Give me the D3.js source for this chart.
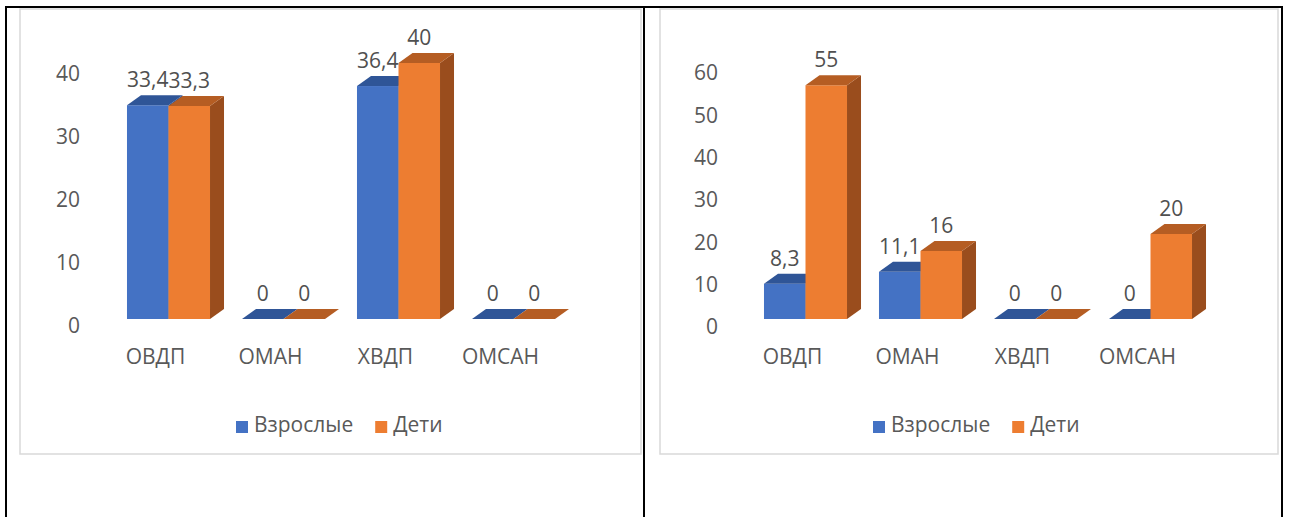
<!DOCTYPE html>
<html>
<head>
<meta charset="utf-8">
<script src="https://cdn.jsdelivr.net/npm/d3@7"></script>
<style>
  html, body { margin: 0; padding: 0; background: #fff; }
  svg { display: block; }
  text { font-family: "Open Sans", "Noto Sans", sans-serif; }
</style>
</head>
<body>
<svg id="page" width="1289" height="517"></svg>
<script>
// Categories and series shared by both panels
const categories = ["ОВДП", "ОМАН", "ХВДП", "ОМСАН"];
const seriesNames = ["Взрослые", "Дети"];

// Left panel values (%)
const leftAdults = [33.4, 0, 36.4, 0];
const leftChildren = [33.3, 0, 40, 0];
const leftTicks = [0, 10, 20, 30, 40];

// Right panel values (%)
const rightAdults = [8.3, 11.1, 0, 0];
const rightChildren = [55, 16, 0, 20];
const rightTicks = [0, 10, 20, 30, 40, 50, 60];

// Face colours per series: front, top, side
const palette = [
  { front: "#4472C4", top: "#2F5597", side: "#2E5190" },
  { front: "#ED7D31", top: "#B55D23", side: "#9A4D1D" }
];

const FONT_SIZE = "21px";
const svg = d3.select("#page");
const fmt = v => String(v).replace(".", ",");

// Table frame around the two panels
const frame = svg.append("g").attr("stroke", "#000").attr("stroke-width", 2);
frame.append("line").attr("x1", 5).attr("x2", 1283).attr("y1", 7).attr("y2", 7);
[6, 644, 1282].forEach(x =>
  frame.append("line").attr("x1", x).attr("x2", x).attr("y1", 7).attr("y2", 517));

function drawPanel(cfg) {
  const g = svg.append("g");

  // chart area border
  g.append("rect")
    .attr("x", cfg.box[0]).attr("y", cfg.box[1])
    .attr("width", cfg.box[2]).attr("height", cfg.box[3])
    .attr("fill", "#fff").attr("stroke", "#D9D9D9").attr("stroke-width", 1.5);

  const dx = 14, dy = 10;

  const x = d3.scaleBand()
    .domain(categories)
    .range(cfg.xRange)
    .paddingInner(0.278)
    .paddingOuter(0.139);
  const xs = d3.scaleBand().domain([0, 1]).range([0, x.bandwidth()]);

  const y = d3.scaleLinear().domain(cfg.yDomain).range(cfg.yRange);
  const yAxisScale = d3.scaleLinear().domain(cfg.yDomain).range(cfg.axisRange);

  // value axis labels (no line, no ticks)
  const ax = g.append("g")
    .attr("transform", `translate(${cfg.axisX},0)`)
    .call(d3.axisLeft(yAxisScale).tickValues(cfg.ticks).tickSize(0).tickPadding(0).tickFormat(d3.format("d")));
  ax.select(".domain").remove();
  ax.selectAll("text")
    .attr("fill", "#595959")
    .style("font-size", FONT_SIZE)
    .style("font-family", "'Open Sans', 'Noto Sans', sans-serif");

  // 3D bars
  const series = [cfg.adults, cfg.children];
  const bars = g.append("g");
  categories.forEach((c, i) => {
    series.forEach((vals, s) => {
      const v = vals[i];
      const x0 = x(c) + xs(s);
      const w = xs.bandwidth();
      const y0 = y(0);
      const y1 = y(v);
      const col = palette[s];
      const bg = bars.append("g");
      if (v > 0) {
        bg.append("rect")
          .attr("x", x0).attr("y", y1)
          .attr("width", w).attr("height", y0 - y1)
          .attr("fill", col.front);
        bg.append("path")
          .attr("d", `M${x0 + w},${y1}L${x0 + w + dx},${y1 - dy}L${x0 + w + dx},${y0 - dy}L${x0 + w},${y0}Z`)
          .attr("fill", col.side);
      }
      bg.append("path")
        .attr("d", `M${x0},${y1}L${x0 + dx},${y1 - dy}L${x0 + w + dx},${y1 - dy}L${x0 + w},${y1}Z`)
        .attr("fill", col.top);
      // data label
      g.append("text")
        .attr("x", x0 + w / 2)
        .attr("y", y1 - 18)
        .attr("text-anchor", "middle")
        .attr("fill", "#505050")
        .style("font-size", FONT_SIZE)
        .text(fmt(v));
    });
  });

  // category labels
  g.selectAll(".cat")
    .data(categories)
    .enter().append("text")
    .attr("x", d => x(d) + x.bandwidth() / 2 - 13)
    .attr("y", 364)
    .attr("text-anchor", "middle")
    .attr("fill", "#595959")
    .style("font-size", FONT_SIZE)
    .text(d => d);

  // legend
  const lg = g.append("g").attr("transform", `translate(${cfg.legendX},0)`);
  let cx = 0;
  seriesNames.forEach((name, s) => {
    lg.append("rect")
      .attr("x", cx).attr("y", 421)
      .attr("width", 12).attr("height", 12)
      .attr("fill", palette[s].front);
    const t = lg.append("text")
      .attr("x", cx + 18).attr("y", 432)
      .attr("fill", "#595959")
      .style("font-size", FONT_SIZE)
      .text(name);
    cx += 18 + t.node().getComputedTextLength() + 22;
  });
}

drawPanel({
  box: [20, 9, 621, 445],
  xRange: [111, 571],
  yDomain: [0, 40],
  yRange: [319, 63],
  axisRange: [326, 74],
  axisX: 80,
  ticks: leftTicks,
  adults: leftAdults,
  children: leftChildren,
  legendX: 236
});

drawPanel({
  box: [660, 9, 618, 445],
  xRange: [748, 1208],
  yDomain: [0, 60],
  yRange: [319, 64],
  axisRange: [327, 73],
  axisX: 718,
  ticks: rightTicks,
  adults: rightAdults,
  children: rightChildren,
  legendX: 873
});
</script>
</body>
</html>
